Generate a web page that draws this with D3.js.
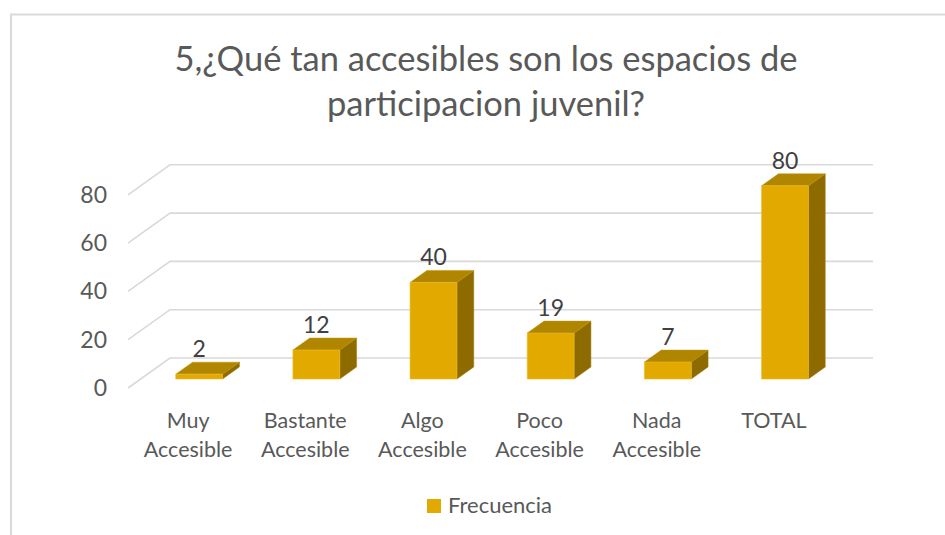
<!DOCTYPE html>
<html>
<head>
<meta charset="utf-8">
<script src="https://cdn.jsdelivr.net/npm/d3@7/dist/d3.min.js"></script>
<style>
  html, body { margin: 0; padding: 0; background: #fff; }
  svg { display: block; font-family: Lato, "Open Sans", sans-serif; }
</style>
</head>
<body>
<svg id="chart" width="945" height="535"></svg>
<script>
const titleLines = ["5,¿Qué tan accesibles son los espacios de", "participacion juvenil?"];
const categories = [["Muy", "Accesible"], ["Bastante", "Accesible"], ["Algo", "Accesible"], ["Poco", "Accesible"], ["Nada", "Accesible"], ["TOTAL"]];
const values = [2, 12, 40, 19, 7, 80];
const yTicks = [0, 20, 40, 60, 80];
const seriesName = "Frecuencia";

const svg = d3.select("#chart");
const W = 945, H = 535;

// colors
const cFront = "#E2AA00", cTop = "#B08500", cSide = "#8E6B00";
const gridColor = "#D9D9D9", textColor = "#595959";

// chart border
svg.append("path")
  .attr("d", `M11,${H + 5} L11,14.5 L${W + 5},14.5`)
  .attr("fill", "none").attr("stroke", gridColor).attr("stroke-width", 2);

// title
svg.append("text")
  .attr("x", 486).attr("y", 71)
  .attr("text-anchor", "middle")
  .attr("fill", textColor)
  .style("font-size", "34.5px")
  .selectAll("tspan").data(titleLines).join("tspan")
  .attr("x", 486).attr("dy", (d, i) => i === 0 ? 0 : 45)
  .text(d => d);

// 3D projection: depth d in [0,1] shifts by (depthX*d, -depthY*d)
const depthX = 42, depthY = 30;
const floorY = 388;
const x = d3.scaleBand()
  .domain(d3.range(categories.length))
  .range([128, 831])
  .paddingInner(0.6).paddingOuter(0.3);
const y = d3.scaleLinear().domain([0, 80]).range([0, 193.2]); // height in px
const proj = (px, v, d) => [px + depthX * d, floorY - depthY * d - y(v)];

// gridlines: back wall horizontal + side wall diagonal
const gridG = svg.append("g");
yTicks.forEach(t => {
  const a = proj(128, t, 0), b = proj(128, t, 1), c = proj(831, t, 1);
  gridG.append("path")
    .attr("d", `M${a[0]},${a[1]} L${b[0]},${b[1]} L${c[0]},${c[1]}`)
    .attr("fill", "none").attr("stroke", gridColor).attr("stroke-width", 1.6);
});

// y axis labels
svg.append("g").selectAll("text").data(yTicks).join("text")
  .attr("x", 107)
  .attr("y", d => proj(128, d, 0)[1])
  .attr("dy", "0.35em")
  .attr("text-anchor", "end")
  .attr("fill", textColor)
  .style("font-size", "23px")
  .text(d => d);

// bars
const dFront = 0.3, dBack = 0.7;
const barsG = svg.append("g");
values.forEach((v, i) => {
  const x0 = x(i), x1 = x(i) + x.bandwidth();
  const fbl = proj(x0, 0, dFront), fbr = proj(x1, 0, dFront);
  const ftl = proj(x0, v, dFront), ftr = proj(x1, v, dFront);
  const btl = proj(x0, v, dBack), btr = proj(x1, v, dBack), bbr = proj(x1, 0, dBack);
  const pts = p => p.map(q => q.join(",")).join(" ");
  // side
  barsG.append("polygon").attr("points", pts([fbr, ftr, btr, bbr]))
    .attr("fill", cSide).attr("stroke", "#A07A00").attr("stroke-width", 0.5);
  // top
  barsG.append("polygon").attr("points", pts([ftl, ftr, btr, btl]))
    .attr("fill", cTop).attr("stroke", "#C49500").attr("stroke-width", 0.5);
  // front
  barsG.append("polygon").attr("points", pts([fbl, fbr, ftr, ftl]))
    .attr("fill", cFront).attr("stroke", "#EDBA20").attr("stroke-width", 0.6);
  // value label
  barsG.append("text")
    .attr("x", (fbl[0] + fbr[0]) / 2)
    .attr("y", btl[1] - 5)
    .attr("text-anchor", "middle")
    .attr("fill", "#404040")
    .style("font-size", "23px")
    .text(v);
});

// category labels
const catG = svg.append("g");
categories.forEach((lines, i) => {
  const cx = x(i) + x.bandwidth() / 2 + 1.5;
  const t = catG.append("text")
    .attr("text-anchor", "middle")
    .attr("fill", textColor)
    .style("font-size", "21.5px");
  lines.forEach((ln, j) => {
    t.append("tspan").attr("x", cx).attr("y", 428 + j * 29).text(ln);
  });
});

// legend
svg.append("rect").attr("x", 427).attr("y", 499).attr("width", 14).attr("height", 14).attr("fill", cFront);
svg.append("text").attr("x", 448).attr("y", 513)
  .attr("fill", textColor).style("font-size", "22px").text(seriesName);
</script>
</body>
</html>
